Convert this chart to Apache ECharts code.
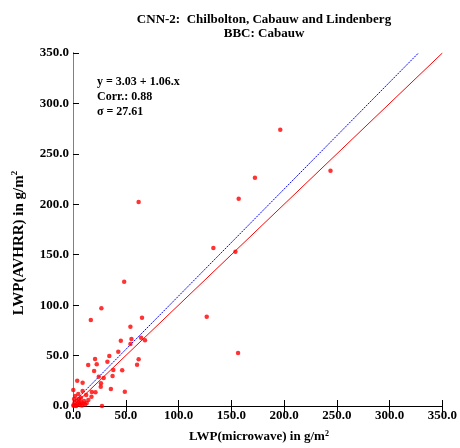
<!DOCTYPE html>
<html>
<head>
<meta charset="utf-8">
<script src="https://cdn.jsdelivr.net/npm/echarts@6/dist/echarts.min.js"></script>
<style>html,body{margin:0;padding:0;background:#fff}#c{width:460px;height:448px}</style>
</head>
<body>
<div id="c"></div>
<script>
// LWP(microwave) values (x) and LWP(AVHRR) values (y)
const microwaveLWP = [196.4,244,172.4,157,62.2,133,153.9,48.5,126.7,65.4,54.4,45.3,55.4,64.5,68.2,54.4,62.2,60.7,46.6,156.4,49.1,26.9,16.9,42.9,34.4,20.9,14.4,22.5,20,38.2,24.4,29.1,37.5,26.3,35.9,17.8,4,0.3,9.1,9.1,12.5,21.3,27.5,32.6,17.5,7.5,26.5,
  0.5,1.5,2.5,3.5,4.5,5.5,6.5,7.5,8.5,9.5,10.5,11.5,13,1,2,5,3,0.5,14.5,6];
const avhrrLWP = [273.9,233.3,226.4,205.5,202.3,156.7,153,123.2,88.5,87.5,78.6,64.7,66.4,67.7,65.1,61.5,46.3,40.9,35.4,52.5,14.2,96.9,85.3,53.8,49.6,46.6,40.6,41.3,34.7,35.7,29,27.8,29.7,19.1,16.9,13.9,25.1,15.9,23.1,14.9,10.9,13.6,0,43.9,9.2,8.2,22.5,
  1,3.5,0.5,5.5,2,7,1,4,0.5,2.5,5,1.5,3,7,10,12,0,0.2,6,3];
const fitIntercept = 3.03;
const fitSlope = 1.06;
const corr = 0.88;
const sigma = 27.61;
const axisMin = 0, axisMax = 350, axisStep = 50;
const titleLines = ['CNN-2:  Chilbolton, Cabauw and Lindenberg', 'BBC: Cabauw'];

const points = microwaveLWP.map((x, i) => [x, avhrrLWP[i]]);
const oneToOne = [[axisMin, axisMin], [axisMax, axisMax]];
const fitLine = [[axisMin, fitIntercept + fitSlope * axisMin], [(axisMax - fitIntercept) / fitSlope, axisMax]];

const F = '"Liberation Serif","Times New Roman",serif';
const chart = echarts.init(document.getElementById('c'), null, {renderer: 'canvas'});
const lab = {fontFamily: F, fontWeight: 'bold', fontSize: 13, color: '#000'};
chart.setOption({
  animation: false,
  backgroundColor: '#fff',
  title: {
    text: titleLines.join('\n'), left: 259, top: 8, textAlign: 'center',
    textStyle: {fontFamily: F, fontWeight: 'bold', fontSize: 13, lineHeight: 14, color: '#000'}
  },
  grid: {left: 73, right: 14, top: 53, bottom: 42},
  xAxis: [{
    type: 'value', min: axisMin, max: axisMax, interval: axisStep,
    axisLine: {show: true, lineStyle: {color: '#000', width: 1}},
    axisTick: {show: true, inside: true, length: 6, lineStyle: {color: '#000'}},
    axisLabel: Object.assign({formatter: v => v.toFixed(1), margin: 3}, lab),
    splitLine: {show: false}
  }, {
    type: 'value', position: 'top', min: axisMin, max: axisMax, interval: axisStep,
    axisLine: {show: true, lineStyle: {color: '#000', width: 1}},
    axisTick: {show: true, inside: true, length: 6, lineStyle: {color: '#000'}},
    axisLabel: {show: false}, splitLine: {show: false}
  }],
  yAxis: [{
    type: 'value', min: axisMin, max: axisMax, interval: axisStep,
    axisLine: {show: true, lineStyle: {color: '#000', width: 1}},
    axisTick: {show: true, inside: true, length: 6, lineStyle: {color: '#000'}},
    axisLabel: Object.assign({formatter: v => v.toFixed(1), margin: 4}, lab),
    splitLine: {show: false}
  }, {
    type: 'value', position: 'right', min: axisMin, max: axisMax, interval: axisStep,
    axisLine: {show: true, lineStyle: {color: '#808080', width: 1}},
    axisTick: {show: false}, axisLabel: {show: false}, splitLine: {show: false}
  }],
  graphic: [
    {type: 'text', left: 97, top: 74, style: {
      text: 'y = ' + fitIntercept.toFixed(2) + ' + ' + fitSlope.toFixed(2) + '.x\nCorr.: ' + corr.toFixed(2) + '\nσ = ' + sigma.toFixed(2),
      font: 'bold 12px ' + F, lineHeight: 15, fill: '#000'}},
    {type: 'text', x: 259, y: 437, style: {
      text: '{n|LWP(microwave) in g/m}{s|2}', textAlign: 'center', textVerticalAlign: 'middle',
      rich: {n: {fontFamily: F, fontWeight: 'bold', fontSize: 13, color: '#000'},
             s: {fontFamily: F, fontWeight: 'bold', fontSize: 8, padding: [0,0,7,0], color: '#000'}}}},
    {type: 'text', x: 19, y: 243, rotation: Math.PI / 2, style: {
      text: '{n|LWP(AVHRR) in g/m}{s|2}', textAlign: 'center', textVerticalAlign: 'middle',
      rich: {n: {fontFamily: F, fontWeight: 'bold', fontSize: 15, color: '#000'},
             s: {fontFamily: F, fontWeight: 'bold', fontSize: 9, padding: [0,0,8,0], color: '#000'}}}}
  ],
  series: [
    {type: 'line', data: oneToOne, symbol: 'none', lineStyle: {color: '#ff0000', width: 1}, silent: true, z: 2},
    {type: 'line', data: fitLine, symbol: 'none', lineStyle: {color: '#0000ff', width: 1, type: [2, 1]}, silent: true, z: 2},
    {type: 'scatter', data: points, symbol: 'circle', symbolSize: 4.5, itemStyle: {color: '#ff0000'}, z: 3}
  ]
});
</script>
</body>
</html>
